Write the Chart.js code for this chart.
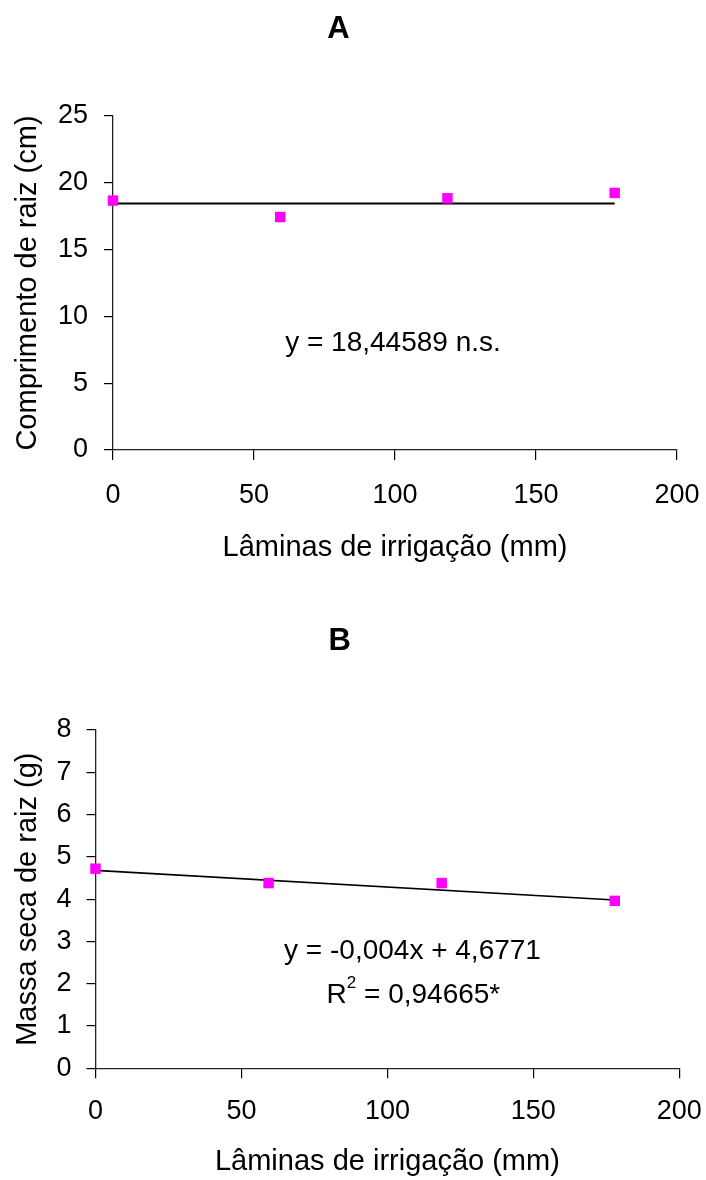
<!DOCTYPE html>
<html>
<head>
<meta charset="utf-8">
<script src="https://cdn.jsdelivr.net/npm/chart.js@4.4.1/dist/chart.umd.min.js"></script>
<style>
  html, body { margin: 0; padding: 0; background: #ffffff; }
  .wrap { position: absolute; left: 0; width: 706px; height: 590px; }
  #wrapA { top: 0; }
  #wrapB { top: 590px; }
</style>
</head>
<body>
<div class="wrap" id="wrapA"><canvas id="chartA" width="706" height="590"></canvas></div>
<div class="wrap" id="wrapB"><canvas id="chartB" width="706" height="590"></canvas></div>
<script>
// ---- data ----
const laminas = [0, 59.3, 118.6, 177.9];            // Lâminas de irrigação (mm)
const comprimentoRaiz = [18.67, 17.44, 18.84, 19.24]; // cm
const ajusteX = [0, 177.9];
const comprimentoAjuste = [18.44589, 18.44589];
const massaSecaRaiz = [4.72, 4.38, 4.38, 3.96];       // g
const massaAjuste = [4.68, 3.98];
const xTicks = [0, 50, 100, 150, 200];
const yTicksA = [0, 5, 10, 15, 20, 25];
const yTicksB = [0, 1, 2, 3, 4, 5, 6, 7, 8];

const FONT = "'Liberation Sans', Arial, sans-serif";

function pts(xs, ys) { return xs.map((x, i) => ({ x: x, y: ys[i] })); }

// plugin drawing regression equation text (with optional superscript segments)
const equationPlugin = {
  id: 'equations',
  afterDraw(chart, args, opts) {
    const ctx = chart.ctx;
    ctx.save();
    ctx.fillStyle = '#000';
    ctx.textBaseline = 'alphabetic';
    ctx.textAlign = 'left';
    (opts.lines || []).forEach(line => {
      let total = 0;
      line.segs.forEach(s => {
        ctx.font = (s.sup ? opts.supSize : opts.size) + 'px ' + FONT;
        s._w = ctx.measureText(s.t).width;
        total += s._w;
      });
      let x = line.cx - total / 2;
      line.segs.forEach(s => {
        ctx.font = (s.sup ? opts.supSize : opts.size) + 'px ' + FONT;
        ctx.fillText(s.t, x, line.by - (s.sup ? opts.supRaise : 0));
        x += s._w;
      });
    });
    ctx.restore();
  }
};

function makeChart(id, cfg) {
  const fixW = cfg.yWidth, fixH = cfg.xHeight;
  return new Chart(document.getElementById(id), {
    type: 'scatter',
    data: {
      datasets: [
        {
          type: 'line',
          data: pts(ajusteX, cfg.fit),
          borderColor: '#000000',
          borderWidth: cfg.lineWidth,
          pointRadius: 0,
          fill: false,
          clip: false,
          order: 2
        },
        {
          type: 'scatter',
          data: pts(laminas, cfg.values),
          pointStyle: 'rect',
          pointRadius: 7.4,
          pointBackgroundColor: '#ff00ff',
          pointBorderColor: '#ff00ff',
          pointBorderWidth: 0,
          clip: false,
          order: 1
        }
      ]
    },
    options: {
      responsive: false,
      animation: false,
      events: [],
      layout: { padding: { top: 0, left: 0, right: cfg.padRight, bottom: 0 } },
      plugins: {
        legend: { display: false },
        tooltip: { enabled: false },
        title: {
          display: true,
          text: cfg.title,
          color: '#000',
          font: { family: FONT, size: 31, weight: 'bold' },
          padding: { top: cfg.titleTop, bottom: cfg.titleBottom }
        },
        equations: { size: 28, supSize: 17, supRaise: 15, lines: cfg.eqs }
      },
      scales: {
        x: {
          type: 'linear',
          min: 0, max: 200,
          afterBuildTicks: (s) => { s.ticks = xTicks.map(v => ({ value: v })); },
          afterFit: (s) => { s.height = fixH; s.paddingLeft = 0; s.paddingRight = 0; },
          grid: { drawOnChartArea: false, drawTicks: true, tickLength: 10, color: '#000', lineWidth: 1.2 },
          border: { display: true, color: '#222', width: 1.3 },
          ticks: { color: '#000', font: { family: FONT, size: 27 }, padding: cfg.xTickPad, maxRotation: 0, callback: v => String(v) },
          title: { display: true, text: 'Lâminas de irrigação (mm)', color: '#000',
                   font: { family: FONT, size: 29 }, padding: { top: 0, bottom: cfg.xTitleBottom } }
        },
        y: {
          type: 'linear',
          min: cfg.yMin, max: cfg.yMax,
          afterBuildTicks: (s) => { s.ticks = cfg.yTicks.map(v => ({ value: v })); },
          afterFit: (s) => { s.width = fixW; },
          grid: { drawOnChartArea: false, drawTicks: true, tickLength: 9, color: '#000', lineWidth: 1.2 },
          border: { display: true, color: '#222', width: 1.3 },
          ticks: { color: '#000', font: { family: FONT, size: 27 }, padding: cfg.yTickPad, callback: v => String(v) },
          title: { display: true, text: cfg.yTitle, color: '#000',
                   font: { family: FONT, size: 29 }, padding: { top: 10.6, bottom: 0 } }
        }
      }
    },
    plugins: [equationPlugin]
  });
}

makeChart('chartA', {
  title: 'A',
  titleTop: 11, titleBottom: 67.8,
  padRight: 29,
  yWidth: 113, xHeight: 140,
  xTickPad: 19, yTickPad: 16, xTitleBottom: 24.6,
  yMin: 0, yMax: 25, yTicks: yTicksA,
  yTitle: 'Comprimento de raiz (cm)',
  values: comprimentoRaiz, fit: comprimentoAjuste, lineWidth: 2,
  eqs: [ { cx: 393, by: 351, segs: [ { t: 'y = 18,44589 n.s.' } ] } ]
});

makeChart('chartB', {
  title: 'B',
  titleTop: 33, titleBottom: 69.8,
  padRight: 26.7,
  yWidth: 95.5, xHeight: 111.7,
  xTickPad: 17, yTickPad: 15, xTitleBottom: 0.6,
  yMin: 0, yMax: 8, yTicks: yTicksB,
  yTitle: 'Massa seca de raiz (g)',
  values: massaSecaRaiz, fit: massaAjuste, lineWidth: 1.6,
  eqs: [
    { cx: 412.5, by: 369, segs: [ { t: 'y = -0,004x + 4,6771' } ] },
    { cx: 413.4, by: 412.7, segs: [ { t: 'R' }, { t: '2', sup: true }, { t: ' = 0,94665*' } ] }
  ]
});
</script>
</body>
</html>
